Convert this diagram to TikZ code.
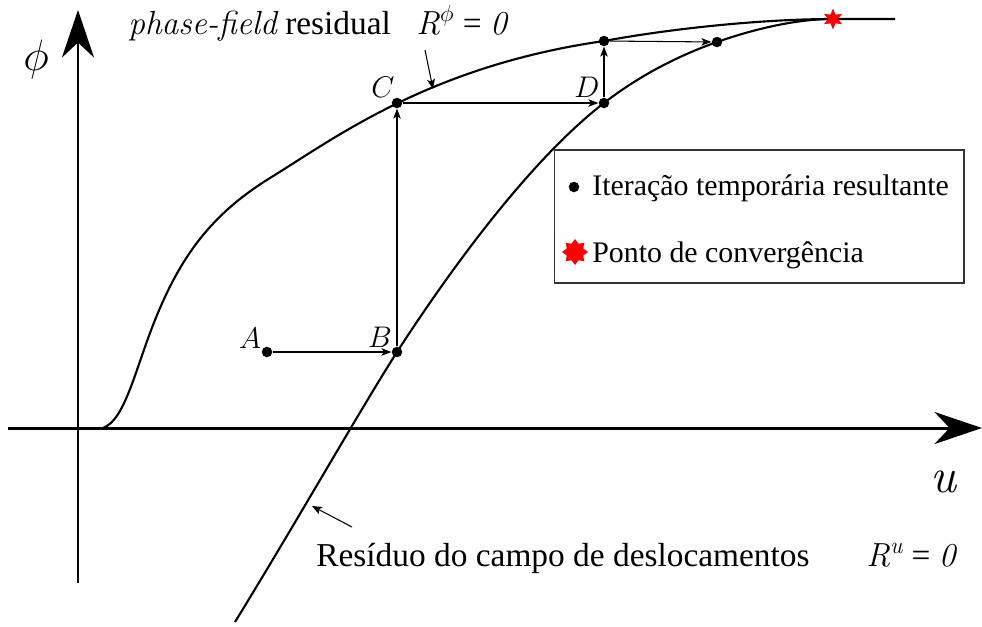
\documentclass[tikz,border=0pt]{standalone}
\usepackage{fix-cm}
\usepackage{fontspec}
\setmainfont{Liberation Serif}
\newfontfamily\lmitalic{Latin Modern Roman}
\usepackage{tikz}
\usetikzlibrary{arrows.meta,shapes.geometric}
\newcommand{\itx}[1]{{\lmitalic\itshape #1}}

\begin{document}
\begin{tikzpicture}[x=0.02cm, y=-0.02cm, font=\fontsize{17}{20}\selectfont,
    dot/.style={circle,fill=black,inner sep=0pt,minimum size=0.21cm},
    axisline/.style={line width=1.7pt,-{Stealth[length=0.95cm,width=0.64cm,inset=0.3cm]}},
    curveline/.style={line width=1.2pt},
    stepline/.style={line width=0.6pt,-{Stealth[length=0.2cm,width=0.15cm,inset=0.05cm]}},
    pointer/.style={line width=0.6pt,-{Stealth[length=0.2cm,width=0.16cm,inset=0.05cm]}},
    bigtext/.style={anchor=base west,inner sep=0pt,font=\fontsize{19}{22}\selectfont},
    legtext/.style={anchor=base west,inner sep=0pt}]
  \useasboundingbox (0,0) rectangle (982,626);

  \coordinate (xstart) at (8,428);
  \coordinate (xend) at (982,428);
  \coordinate (ystart) at (78,583);
  \coordinate (yend) at (78,10);
  \draw[axisline] (xstart) -- (xend);
  \draw[axisline] (ystart) -- (yend);
  \node[font=\fontsize{25}{28}\selectfont] (philabel) at (36,60) {$\phi$};
  \node[font=\fontsize{28}{32}\selectfont] (ulabel) at (943,482) {\itx{u}};

  \draw[curveline] (103,428) .. controls (125,420) and (135,370) .. (155,320)
    .. controls (180,258) and (210,215) .. (270,178)
    .. controls (335,138) and (430,66) .. (604,41)
    .. controls (680,27) and (770,19) .. (833,19) -- (895,19);
  \draw[curveline] (235,622) .. controls (300,516) and (360,410) .. (397,352)
    .. controls (450,270) and (530,160) .. (604,103)
    .. controls (640,75) and (680,55) .. (717,42)
    .. controls (760,27) and (800,19) .. (833,19);

  \node[star,star points=6,star point ratio=2.1,fill=red,inner sep=0pt,minimum size=0.42cm] (conv) at (833,19) {};

  \node[dot] (A) at (267,352) {};
  \node[dot] (B) at (397,352) {};
  \node[dot] (C) at (397,103) {};
  \node[dot] (D) at (604,103) {};
  \node[dot] (E) at (604,41) {};
  \node[dot] (F) at (717,42) {};
  \node (labA) at (250,338) {$A$};
  \node (labB) at (380,337) {$B$};
  \node (labC) at (383,87) {$C$};
  \node (labD) at (587,87) {$D$};

  \draw[stepline] (A) -- (B);
  \draw[stepline] (B) -- (C);
  \draw[stepline] (C) -- (D);
  \draw[stepline] (D) -- (E);
  \draw[stepline] (E) -- (F);

  \node[bigtext] (pftitle) at (128,34) {\itx{phase-field} residual};
  \node[bigtext] (pfeq) at (416,34) {\itx{R}\textsuperscript{$\phi$} = \itx{0}};
  \coordinate (pftail) at (425,50);
  \coordinate (pfhead) at (433,89);
  \draw[pointer] (pftail) -- (pfhead);

  \node[bigtext] (rutitle) at (316,566) {Resíduo do campo de deslocamentos};
  \node[bigtext] (rueq) at (866,566) {\itx{R}\textsuperscript{\itx{u}} = \itx{0}};
  \coordinate (rutail) at (352,527);
  \coordinate (ruhead) at (312,506);
  \draw[pointer] (rutail) -- (ruhead);

  \node[draw=black!80,line width=0.6pt,fill=white,minimum width=8.2cm,minimum height=2.66cm] (legend) at (759,216.5) {};
  \node[dot] (legdot) at (574,187) {};
  \node[star,star points=8,star point ratio=1.45,fill=red,inner sep=0pt,minimum size=0.52cm] (legstar) at (575,252) {};
  \node[legtext] (legiter) at (592,195) {Iteração temporária resultante};
  \node[legtext] (legconv) at (592,262) {Ponto de convergência};
\end{tikzpicture}
\end{document}
